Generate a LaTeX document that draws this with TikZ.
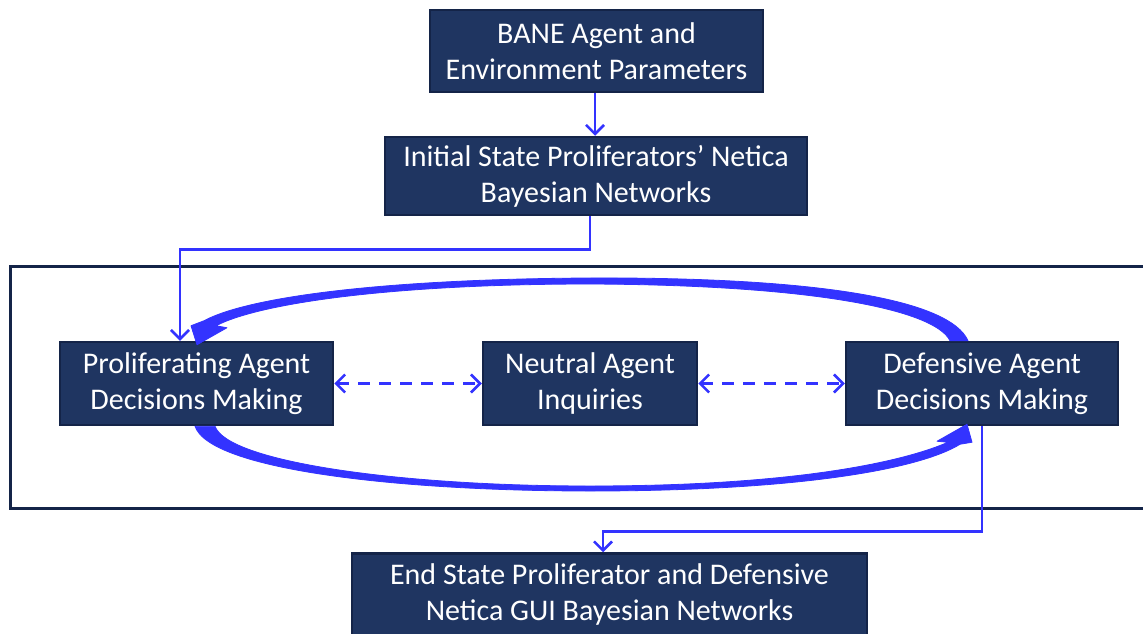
\documentclass[tikz,border=0pt]{standalone}
\usepackage{fontspec}
\setmainfont{Carlito}
\usetikzlibrary{arrows.meta,calc}
\definecolor{boxfill}{HTML}{1F3561}
\definecolor{boxline}{HTML}{142448}
\definecolor{arrowblue}{HTML}{3333FF}
\tikzset{
  box/.style={draw=boxline, line width=2.5pt, fill=boxfill, text=white, align=center,
    inner sep=0pt, font=\fontsize{30}{36}\selectfont},
  link/.style={draw=arrowblue, line width=2.5pt, -{Straight Barb[length=9pt,width=18pt,line width=2.5pt]}},
  dlink/.style={link, {Straight Barb[length=9pt,width=18pt,line width=2.5pt]}-{Straight Barb[length=9pt,width=18pt,line width=2.5pt]}, dash pattern=on 12pt off 9pt},
  bigcurve/.style={fill=arrowblue, draw=arrowblue, line width=0.8pt, line join=round},
}
\begin{document}
\begin{tikzpicture}[x=1pt,y=-1pt]
\useasboundingbox (0,0) rectangle (1143,634);
\draw[boxline, line width=3pt] (1160,266) -- (10,266) -- (10,508) -- (1160,508);
\node[box, minimum width=333pt, minimum height=82pt] (bane) at (596.5,51) {BANE Agent and\\Environment Parameters};
\node[box, minimum width=422pt, minimum height=78pt] (init) at (596,176) {Initial State Proliferators’ Netica\\Bayesian Networks};
\node[box, minimum width=273pt, minimum height=83pt] (prolif) at (196.5,383.5) {Proliferating Agent\\Decisions Making};
\node[box, minimum width=214pt, minimum height=83pt] (neutral) at (590,383.5) {Neutral Agent\\Inquiries};
\node[box, minimum width=272pt, minimum height=83pt] (def) at (982,383.5) {Defensive Agent\\Decisions Making};
\node[box, minimum width=515pt, minimum height=82pt] (end) at (609.5,594.5) {End State Proliferator and Defensive\\Netica GUI Bayesian Networks};
% straight connectors
\draw[link] ([xshift=-1.5pt]bane.south) -- ([xshift=-1pt]init.north);
\draw[link] ([xshift=-6pt]init.south) -- ++(0,33) -| ([xshift=-16.5pt]prolif.north);
\draw[link] (def.south) -- ++(0,105) -| ([xshift=-6.5pt]end.north);
\draw[dlink] (prolif.east) -- (neutral.west);
\draw[dlink] (neutral.east) -- (def.west);
% big curved arrow: defensive -> proliferating (over the top)
\path[bigcurve] ($(def.north)+(-14,0)$) .. controls (950,300) and (820,277) .. (590,278)
  .. controls (390,279) and (250,296) .. ($(prolif.north)+(7.5,-20)$)
  -- ($(prolif.north)+(-5.5,-15)$) -- ($(prolif.north)+(0.5,4)$) -- ($(prolif.north)+(30.5,-13)$)
  -- ($(prolif.north)+(19.5,-15)$) .. controls (262,302) and (400,284) .. (590,284)
  .. controls (815,285) and (935,310) .. ($(def.north)+(-32,0)$) -- cycle;
% big curved arrow: proliferating -> defensive (under the bottom)
\path[bigcurve] ($(prolif.south)+(-1.5,0)$) .. controls (210,470) and (400,491) .. (590,491)
  .. controls (800,491) and (920,469) .. ($(def.south)+(-22,18)$)
  -- ($(def.south)+(-10,16)$) -- ($(def.south)+(-15,-2)$) -- ($(def.south)+(-45,15)$)
  -- ($(def.south)+(-34,16)$) .. controls (900,463) and (790,486) .. (590,486)
  .. controls (400,486) and (228,462) .. ($(prolif.south)+(18.5,0)$) -- cycle;
\end{tikzpicture}
\end{document}
